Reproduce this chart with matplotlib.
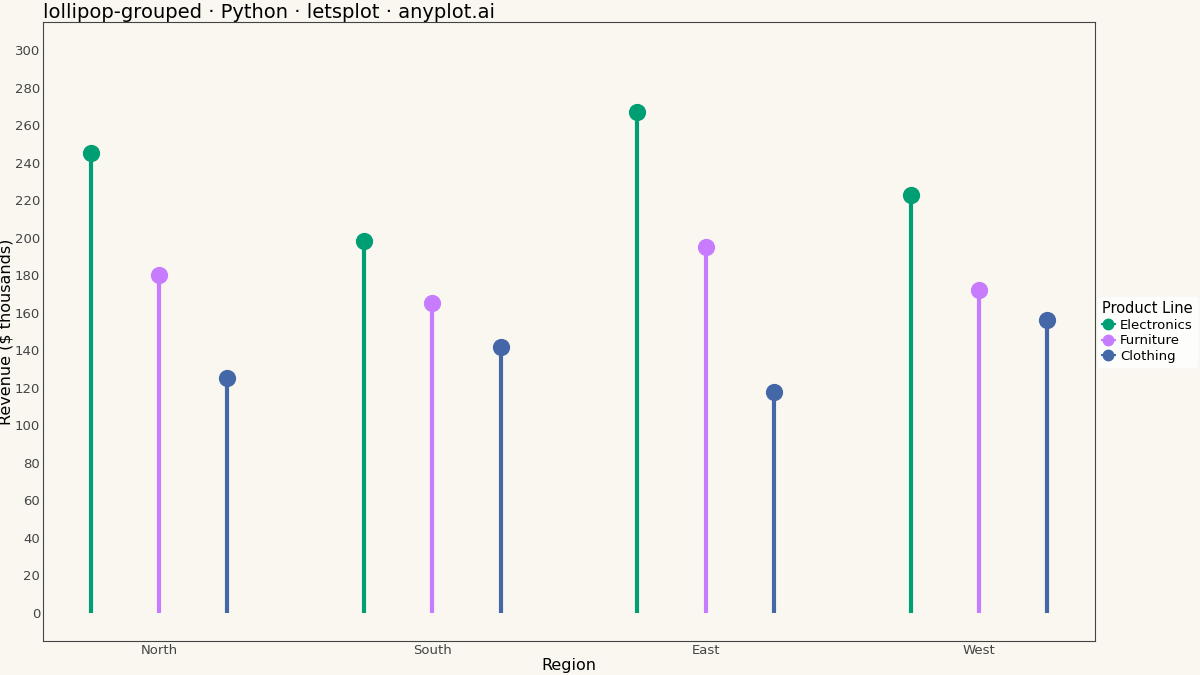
import matplotlib
matplotlib.use("Agg")
import matplotlib.pyplot as plt
from matplotlib.lines import Line2D
import numpy as np

regions = ["North", "South", "East", "West"]
products = ["Electronics", "Furniture", "Clothing"]
electronics = [245, 198, 267, 223]
furniture = [180, 165, 195, 172]
clothing = [125, 142, 118, 156]
colors = ["#009E73", "#C77CFF", "#4467A8"]
series = [electronics, furniture, clothing]

bg = "#FAF7F0"
fig = plt.figure(figsize=(12, 6.75), dpi=100, facecolor=bg)
ax = fig.add_axes([43/1200, 1-641/675, 1052/1200, 619/675], facecolor=bg)
x = np.arange(len(regions))
offsets = [-0.25, 0, 0.25]
for vals, c, off in zip(series, colors, offsets):
    xs = x + off
    ax.vlines(xs, 0, vals, color=c, lw=3)
    ax.scatter(xs, vals, s=130, color=c, zorder=3)

ax.set_xlim(-0.425, 3.425)
ax.set_ylim(-15, 315)
ax.set_yticks(range(0, 301, 20))
ax.set_xticks(x)
ax.set_xticklabels(regions)
ax.tick_params(length=0, labelsize=9.5, colors="#444444", pad=2)
for s in ax.spines.values():
    s.set_color("#444444"); s.set_linewidth(0.8)
ax.set_xlabel("Region", fontsize=11.5, labelpad=1)
ax.set_ylabel("Revenue ($ thousands)", fontsize=11.5, labelpad=1)
fig.text(43/1200, 1-12/675, "lollipop-grouped · Python · letsplot · anyplot.ai", fontsize=14, va="center")

handles = [Line2D([0], [0], color=c, marker="o", markersize=7.5, lw=1.5) for c in colors]
leg = fig.legend(handles, products, title="Product Line", loc="center left",
                 bbox_to_anchor=(1095/1200, 1-332/675), frameon=True, fontsize=9.5,
                 title_fontsize=10.5, handlelength=1.0, handletextpad=0.4, labelspacing=0.2,
                 borderpad=0.3, borderaxespad=0.2)
leg.get_frame().set_facecolor("white"); leg.get_frame().set_edgecolor("white")
leg._legend_box.align = "left"
fig.savefig("out.png", facecolor=bg)
